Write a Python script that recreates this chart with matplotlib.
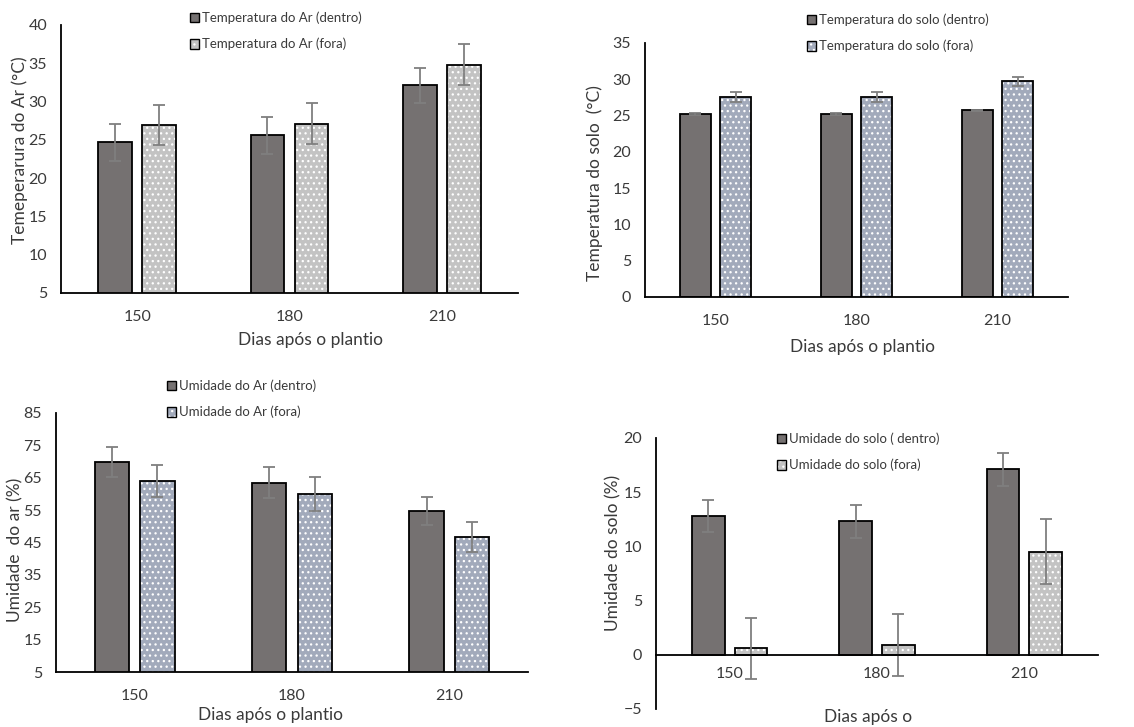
import numpy as np
import matplotlib
matplotlib.use('Agg')
import matplotlib.pyplot as plt
from matplotlib.patches import Patch

plt.rcParams['font.family'] = ['Lato', 'DejaVu Sans']
plt.rcParams['hatch.linewidth'] = 0.9

W, H = 1134, 727

# Data
dias = ['150', '180', '210']

temp_ar_dentro = [24.7, 25.6, 32.1]
temp_ar_dentro_err = [2.4, 2.4, 2.3]
temp_ar_fora = [26.9, 27.1, 34.8]
temp_ar_fora_err = [2.6, 2.7, 2.7]

temp_solo_dentro = [25.2, 25.2, 25.7]
temp_solo_dentro_err = [0.1, 0.15, 0.1]
temp_solo_fora = [27.6, 27.6, 29.7]
temp_solo_fora_err = [0.7, 0.7, 0.65]

umid_ar_dentro = [69.8, 63.4, 54.7]
umid_ar_dentro_err = [4.7, 4.8, 4.2]
umid_ar_fora = [64.0, 59.9, 46.8]
umid_ar_fora_err = [4.8, 5.2, 4.6]

umid_solo_dentro = [12.8, 12.3, 17.1]
umid_solo_dentro_err = [1.5, 1.5, 1.5]
umid_solo_fora = [0.6, 0.9, 9.5]
umid_solo_fora_err = [2.8, 2.9, 3.0]

DARK = '#757171'
LIGHT = '#c3c3c3'
BLUE = '#a2aabb'
TXT = '#3a3a3a'
HATCH = '...'


def px_axes(fig, left, top, right, bottom):
    return fig.add_axes([left / W, 1 - bottom / H, (right - left) / W, (bottom - top) / H])


def panel(ax, d, d_err, f, f_err, fora_color, labels, ylim, ystep, leg_xy):
    x = np.arange(len(dias))
    wd = 0.22
    off = 0.145
    ax.bar(x - off, d, wd, color=DARK, edgecolor='black', linewidth=1.3, zorder=2)
    # patterned bar: fill + white dots, then black outline on top
    ax.bar(x + off, f, wd, color=fora_color, edgecolor='white', linewidth=0,
           hatch=HATCH, zorder=2)
    ax.bar(x + off, f, wd, color='none', edgecolor='black', linewidth=1.3, zorder=3)
    ax.errorbar(x - off, d, yerr=d_err, fmt='none', ecolor='#7f7f7f', elinewidth=1.3,
                capsize=4, capthick=1.3, zorder=4)
    ax.errorbar(x + off, f, yerr=f_err, fmt='none', ecolor='#7f7f7f', elinewidth=1.3,
                capsize=4, capthick=1.3, zorder=4)
    ax.set_xlim(-0.5, len(dias) - 0.5)
    ax.set_ylim(*ylim)
    ax.set_yticks(np.arange(ylim[0], ylim[1] + 0.1, ystep))
    ax.set_xticks(x)
    ax.set_xticklabels(dias)
    for s in ['top', 'right']:
        ax.spines[s].set_visible(False)
    for s in ['left', 'bottom']:
        ax.spines[s].set_linewidth(1.3)
        ax.spines[s].set_zorder(5)
    ax.tick_params(axis='both', length=0, labelsize=11.5, labelcolor=TXT)
    ax.tick_params(axis='x', pad=12)
    ax.tick_params(axis='y', pad=10)
    ax.set_facecolor('none')

    h_dark = Patch(facecolor=DARK, edgecolor='black', linewidth=1)
    h_fill = Patch(facecolor=fora_color, edgecolor='white', linewidth=0, hatch=HATCH)
    h_edge = Patch(facecolor='none', edgecolor='black', linewidth=1)
    leg = ax.legend(handles=[h_dark, (h_fill, h_edge)], labels=labels, loc='center left',
                    bbox_to_anchor=(leg_xy[0] / W, 1 - leg_xy[1] / H),
                    bbox_transform=ax.figure.transFigure, frameon=False,
                    fontsize=9.5, handlelength=0.75, handleheight=0.75,
                    handletextpad=0.2, labelspacing=1.05, borderpad=0)
    for t in leg.get_texts():
        t.set_color(TXT)
    return ax


fig = plt.figure(figsize=(W / 100, H / 100), dpi=100)

ax1 = px_axes(fig, 61, 25, 518, 293)
panel(ax1, temp_ar_dentro, temp_ar_dentro_err, temp_ar_fora, temp_ar_fora_err, LIGHT,
      ['Temperatura do Ar (dentro)', 'Temperatura do Ar (fora)'], (5, 40), 5, (183, 31))

ax2 = px_axes(fig, 645, 43, 1068, 297)
panel(ax2, temp_solo_dentro, temp_solo_dentro_err, temp_solo_fora, temp_solo_fora_err, BLUE,
      ['Temperatura do solo (dentro)', 'Temperatura do solo (fora)'], (0, 35), 5, (800, 33))

ax3 = px_axes(fig, 56, 413, 528, 672)
panel(ax3, umid_ar_dentro, umid_ar_dentro_err, umid_ar_fora, umid_ar_fora_err, BLUE,
      ['Umidade do Ar (dentro)', 'Umidade do Ar (fora)'], (5, 85), 10, (160, 399))

ax4 = px_axes(fig, 656, 438, 1098, 709)
panel(ax4, umid_solo_dentro, umid_solo_dentro_err, umid_solo_fora, umid_solo_fora_err, LIGHT,
      ['Umidade do solo ( dentro)', 'Umidade do solo (fora)'], (-5, 20), 5, (770, 452))
ax4.spines['bottom'].set_position(('data', 0))
ax4.tick_params(axis='x', pad=9)

# axis titles placed like the original
lab = dict(fontsize=12.5, color=TXT, ha='center', va='center')
fig.text(311 / W, 1 - 340 / H, 'Dias após o plantio', **lab)
fig.text(863 / W, 1 - 347 / H, 'Dias após o plantio', **lab)
fig.text(271 / W, 1 - 715 / H, 'Dias após o plantio', **lab)
fig.text(868 / W, 1 - 717 / H, 'Dias após o', **lab)
fig.text(20 / W, 1 - 150 / H, 'Temeperarura do Ar (°C)', rotation=90, **lab)
fig.text(595 / W, 1 - 183 / H, 'Temperatura do solo  (°C)', rotation=90, **lab)
fig.text(15 / W, 1 - 550 / H, 'Umidade  do ar (%)', rotation=90, **lab)
fig.text(613 / W, 1 - 553 / H, 'Umidade do solo (%)', rotation=90, **lab)

plt.savefig('out.png', dpi=100, facecolor='white')
